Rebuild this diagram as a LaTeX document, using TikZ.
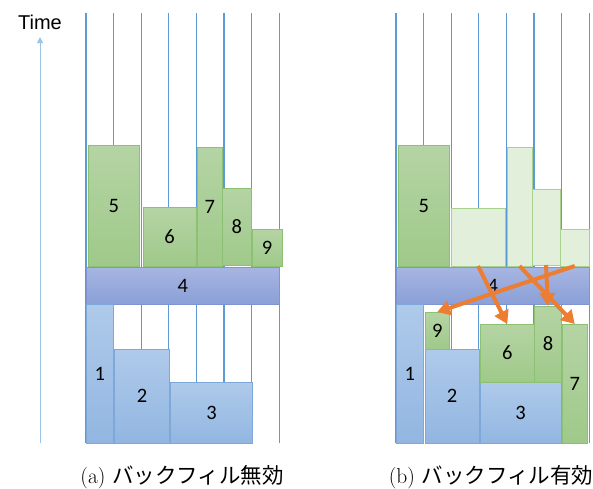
\documentclass[tikz,border=0pt]{standalone}
\usepackage{fontspec}
\usepackage{tikz}
\usetikzlibrary{arrows.meta}
\newfontfamily\cjk{Noto Sans CJK JP}
\newfontfamily\numfont{Carlito}
\newfontfamily\axisfont{Liberation Sans}

\definecolor{gridblue}{HTML}{5B9BD5}
\definecolor{axisblue}{HTML}{9DC3E6}
\definecolor{jobblueT}{HTML}{AFCAEA}
\definecolor{jobblueB}{HTML}{92B6E1}
\definecolor{jobblueD}{HTML}{7EA7DA}
\definecolor{jobgreenT}{HTML}{B5D4A4}
\definecolor{jobgreenB}{HTML}{9FC98A}
\definecolor{jobgreenD}{HTML}{8CC072}
\definecolor{jobfade}{HTML}{E2EFDA}
\definecolor{jobfadeD}{HTML}{A9D18E}
\definecolor{barT}{HTML}{A7B5E1}
\definecolor{barB}{HTML}{8AA0D8}
\definecolor{barD}{HTML}{7D96D3}
\definecolor{moveorange}{HTML}{ED7D31}

\tikzset{
  jobbox/.style={inner sep=0pt, outer sep=0pt, line width=0.8pt,
    font=\numfont\fontsize{20.5}{20.5}\selectfont},
  blueblk/.style={jobbox, draw=jobblueD, top color=jobblueT, bottom color=jobblueB},
  greenblk/.style={jobbox, draw=jobgreenD, top color=jobgreenT, bottom color=jobgreenB},
  fadeblk/.style={jobbox, draw=jobfadeD, fill=jobfade},
  barblk/.style={jobbox, draw=barD, top color=barT, bottom color=barB},
  gridline/.style={gridblue, line width=1.1pt},
  moveto/.style={moveorange, line width=4pt,
    -{Triangle[length=13pt,width=15pt]}},
  caption/.style={font=\fontsize{21.5}{21.5}\selectfont}
}

\begin{document}
\begin{tikzpicture}[x=1pt, y=-1pt]
  \useasboundingbox (0,0) rectangle (593,488);

  % time axis
  \node[font=\axisfont\fontsize{20}{20}\selectfont] (time) at (40,22) {Time};
  \coordinate (tbot) at (40,443);
  \coordinate (ttop) at (40,37);
  \draw[axisblue, line width=1pt, -{Triangle[length=6pt,width=6pt]}] (tbot) -- (ttop);

  % node grid lines
  \foreach \i in {0,...,7} {
    \draw[gridline] (86+27.6*\i,13) -- (86+27.6*\i,443);
    \draw[gridline] (396+27.6*\i,13) -- (396+27.6*\i,443);
  }

  % (a) without backfill
  \node[greenblk, minimum width=51.5, minimum height=121] (a5) at (113.75,205.5) {5};
  \node[greenblk, minimum width=53, minimum height=59] (a6) at (169.5,236.5) {6};
  \node[greenblk, minimum width=25.5, minimum height=119] (a7) at (209.75,206.5) {7};
  \node[greenblk, minimum width=28.5, minimum height=77] (a8) at (236.75,226.5) {8};
  \node[greenblk, minimum width=30, minimum height=37] (a9) at (267,247.5) {9};
  \node[barblk, minimum width=193.5, minimum height=37] (a4) at (182.75,285.5) {4};
  \node[blueblk, minimum width=27.5, minimum height=139] (a1) at (99.75,373.5) {1};
  \node[blueblk, minimum width=55, minimum height=94] (a2) at (142,396) {2};
  \node[blueblk, minimum width=82, minimum height=61] (a3) at (211.5,412.5) {3};

  % (b) with backfill
  \node[greenblk, minimum width=51.5, minimum height=121] (b5) at (423.75,205.5) {5};
  \node[fadeblk, minimum width=54, minimum height=58] (f6) at (478,237) {};
  \node[fadeblk, minimum width=25, minimum height=119] (f7) at (519.5,206.5) {};
  \node[fadeblk, minimum width=28, minimum height=76] (f8) at (546,227) {};
  \node[fadeblk, minimum width=29.5, minimum height=37] (f9) at (574.75,247.5) {};
  \node[barblk, minimum width=193.5, minimum height=37] (b4) at (492.75,285.5) {4};
  \node[blueblk, minimum width=27.5, minimum height=139] (b1) at (409.75,373.5) {1};
  \node[blueblk, minimum width=54, minimum height=94] (b2) at (452,396) {2};
  \node[blueblk, minimum width=81, minimum height=61] (b3) at (520.5,412.5) {3};
  \node[greenblk, minimum width=24.5, minimum height=37] (b9) at (437.25,330.5) {9};
  \node[greenblk, minimum width=54.5, minimum height=58] (b6) at (507.25,353) {6};
  \node[greenblk, minimum width=27, minimum height=76] (b8) at (548,344) {8};
  \node[greenblk, minimum width=25.5, minimum height=119] (b7) at (574.75,383.5) {7};

  % backfill moves
  \draw[moveto] (f9.south) -- (b9.north);
  \draw[moveto] (f6.south) -- (b6.north);
  \draw[moveto] (f7.south) -- (b7.north);
  \draw[moveto] (f8.south) -- (b8.north);

  % captions
  \node[caption] (capa) at (182,477) {(a) {\cjk バックフィル無効}};
  \node[caption] (capb) at (491,477) {(b) {\cjk バックフィル有効}};
\end{tikzpicture}
\end{document}
